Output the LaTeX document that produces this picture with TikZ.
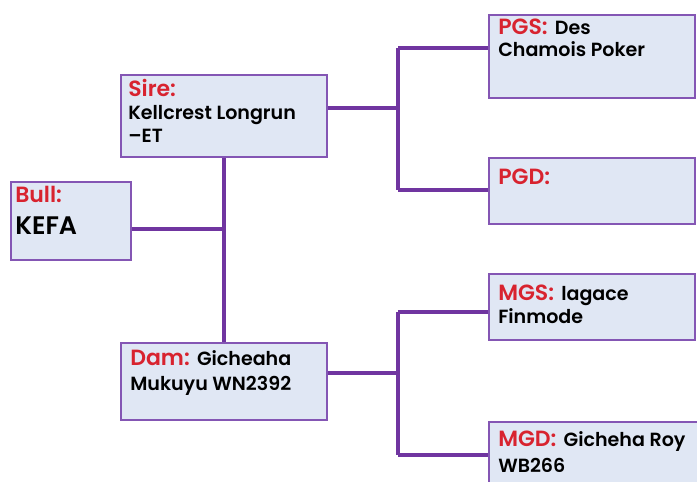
\documentclass[tikz,border=0pt]{standalone}
\usepackage{fontspec}
\setmainfont{Poppins}[UprightFont=* Medium, BoldFont=* SemiBold]
\newfontfamily\labfont{Poppins}[UprightFont=* SemiBold]
\definecolor{boxfill}{HTML}{E0E7F4}
\definecolor{boxborder}{HTML}{8456B4}
\definecolor{linkcol}{HTML}{7035A0}
\definecolor{labred}{HTML}{D8232F}
\begin{document}
\begin{tikzpicture}[x=0.75pt,y=-0.75pt,
  box/.style={draw=boxborder,fill=boxfill,line width=1.5pt,anchor=north west,inner sep=0pt,minimum width=154.5pt},
  link/.style={draw=linkcol,line width=2.5pt},
  lab/.style={anchor=base west,inner sep=0pt,font=\labfont\fontsize{16.5}{18}\selectfont,text=labred},
  txt/.style={anchor=base west,inner sep=0pt,font=\bfseries\fontsize{14.3}{16}\selectfont,text=black}]
\useasboundingbox (0,0) rectangle (697,482);
% boxes
\node[box,minimum width=90pt,minimum height=58.5pt] (bull) at (10,181) {};
\node[box,minimum height=61.5pt] (sire) at (120,74) {};
\node[box,minimum height=57.75pt] (dam) at (120,342) {};
\node[box,minimum height=62.25pt] (pgs) at (488,14) {};
\node[box,minimum height=49.5pt] (pgd) at (488,157) {};
\node[box,minimum height=49.5pt] (mgs) at (488,273) {};
\node[box,minimum width=157pt,minimum height=55pt] (mgd) at (488,421) {};
% junctions
\coordinate (jb) at (224,229);
\coordinate (js) at (398,108);
\coordinate (jd) at (398,373);
% connectors
\draw[link] (bull.east |- jb) -- (jb);
\draw[link] (sire.south -| jb) -- (dam.north -| jb);
\draw[link] (sire.east |- js) -- (js);
\coordinate (pgsj) at (398,48);
\coordinate (pgdj) at (398,190);
\draw[link] (pgsj) -- (pgdj);
\draw[link] (pgsj) -- (pgsj -| pgs.west);
\draw[link] (pgdj) -- (pgdj -| pgd.west);
\draw[link] (dam.east |- jd) -- (jd);
\coordinate (mgsj) at (398,312);
\coordinate (mgdj) at (398,455);
\draw[link] (mgsj) -- (mgdj);
\draw[link] (mgsj) -- (mgsj -| mgs.west);
\draw[link] (mgdj) -- (mgdj -| mgd.west);
% texts
\node[lab] (tbull) at (15,202) {Bull:};
\node[txt,font=\bfseries\fontsize{19}{21}\selectfont] (tkefa) at (15,234) {KEFA};
\node[lab] (tsire) at (128,96) {Sire:};
\node[txt] (tsire1) at (128,119) {Kellcrest Longrun};
\node[txt] (tsire2) at (128,142) {--ET};
\node[lab] (tdam) at (130,365) {Dam:};
\node[txt] (tdam0) at (tdam.base east) [xshift=5pt] {Gicheaha};
\node[txt] (tdam1) at (130,390) {Mukuyu WN2392};
\node[lab] (tpgs) at (498,34) {PGS:};
\node[txt] (tpgs0) at (tpgs.base east) [xshift=5pt] {Des};
\node[txt] (tpgs1) at (498,56) {Chamois Poker};
\node[lab] (tpgd) at (498,184) {PGD:};
\node[lab] (tmgs) at (498,300) {MGS:};
\node[txt] (tmgs0) at (tmgs.base east) [xshift=5pt] {lagace};
\node[txt] (tmgs1) at (498,323) {Finmode};
\node[lab] (tmgd) at (498,446) {MGD:};
\node[txt] (tmgd0) at (tmgd.base east) [xshift=5pt] {Gicheha Roy};
\node[txt] (tmgd1) at (498,472) {WB266};
\end{tikzpicture}
\end{document}
